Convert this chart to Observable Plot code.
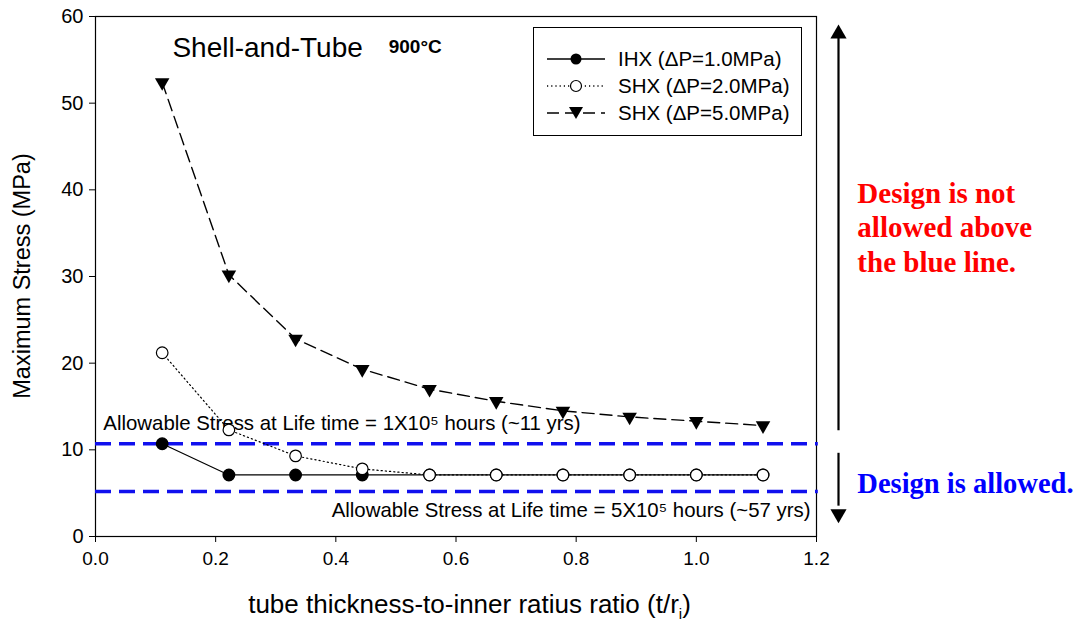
<!DOCTYPE html>
<html><head><meta charset="utf-8">
<script src="https://cdn.jsdelivr.net/npm/d3@7"></script>
<script src="https://cdn.jsdelivr.net/npm/@observablehq/plot@0.6"></script>
<style>
body{margin:0;background:#fff;}
#wrap{position:relative;width:1092px;height:624px;font-family:"Liberation Sans",Arial,sans-serif;color:#000;}
#legend{position:absolute;left:533px;top:27px;width:269px;height:109px;border:1.2px solid #000;box-sizing:border-box;background:#fff;}
.row{position:absolute;left:0;height:28px;display:flex;align-items:center;font-size:20.5px;white-space:nowrap;}
.row svg{margin-left:13px;margin-right:13px;}
#xlabel{position:absolute;left:109px;width:721px;top:589px;text-align:center;font-size:26px;line-height:30px;}
#xlabel sub{font-size:15px;}
#ylabel{position:absolute;left:22px;top:276px;transform:translate(-50%,-50%) rotate(-90deg);font-size:23.5px;white-space:nowrap;}
</style></head><body><div id="wrap"></div>
<script>
// ---- data ----
const ratio = [0.111, 0.222, 0.333, 0.444, 0.556, 0.667, 0.778, 0.889, 1.0, 1.111];
const ihx   = [10.7, 7.1, 7.1, 7.1, 7.1, 7.1, 7.1, 7.1, 7.1, 7.1];
const shx2  = [21.2, 12.3, 9.3, 7.8, 7.1, 7.1, 7.1, 7.1, 7.1, 7.1];
const shx5  = [52.4, 30.2, 22.8, 19.3, 17.0, 15.6, 14.5, 13.8, 13.3, 12.8];
const seriesNames = ["IHX (\u0394P=1.0MPa)", "SHX (\u0394P=2.0MPa)", "SHX (\u0394P=5.0MPa)"];
const allowable = [10.7, 5.2];
const allowableLabels = [
  "Allowable Stress at Life time = 1X10\u2075 hours (~11 yrs)",
  "Allowable Stress at Life time = 5X10\u2075 hours (~57 yrs)"
];
const xTicks = [0, 0.2, 0.4, 0.6, 0.8, 1.0, 1.2];
const yTicks = [0, 10, 20, 30, 40, 50, 60];
const notAllowedLines = ["Design is not", "allowed above", "the blue line."];
const allowedText = "Design is allowed.";
const yTitle = "Maximum Stress (MPa)";

const rows = (ys) => ratio.map((x, i) => ({x, y: ys[i]}));
const dIhx = rows(ihx), dShx2 = rows(shx2), dShx5 = rows(shx5);

const font = '"Liberation Sans", Arial, sans-serif';
const serif = '"Liberation Serif", "Times New Roman", serif';

const chart = Plot.plot({
  width: 1092, height: 624,
  marginLeft: 95, marginRight: 276, marginTop: 16, marginBottom: 88,
  style: {fontFamily: font, fontSize: "19px", background: "white", color: "black", overflow: "visible"},
  x: {domain: [0, 1.2], ticks: xTicks, tickFormat: d3.format(".1f"), tickSize: 6, tickPadding: 9, label: null},
  y: {domain: [0, 60], ticks: yTicks, tickSize: 6, tickPadding: 6, label: null},
  marks: [
    Plot.frame({stroke: "black", strokeWidth: 1.2}),
    Plot.axisX({ticks: xTicks, tickFormat: d3.format(".1f"), tickSize: 6, tickPadding: 9, label: null, fontSize: 19}),
    Plot.axisY({ticks: yTicks, tickSize: 6, tickPadding: 6, label: null, fontSize: 20}),
    Plot.ruleY(allowable, {stroke: "#1010ee", strokeWidth: 3.5, strokeDasharray: "16,8", x1: 0, x2: 1.203}),
    Plot.text([allowableLabels[0]], {x: 0.013, y: 13.0, text: d => d, textAnchor: "start", fontSize: 20.4}),
    Plot.text([allowableLabels[1]], {x: 1.19, y: 3.0, text: d => d, textAnchor: "end", fontSize: 20.4}),
    Plot.line(dIhx, {x: "x", y: "y", stroke: "black", strokeWidth: 1.2}),
    Plot.line(dShx2, {x: "x", y: "y", stroke: "black", strokeWidth: 1.2, strokeDasharray: "1.2,3"}),
    Plot.line(dShx5, {x: "x", y: "y", stroke: "black", strokeWidth: 1.4, strokeDasharray: "12,6"}),
    Plot.dot(dShx5, {x: "x", y: "y", symbol: "triangle", rotate: 180, fill: "black", r: 5.4}),
    Plot.dot(dIhx, {x: "x", y: "y", fill: "black", stroke: "black", r: 5.7}),
    Plot.dot(dShx2, {x: "x", y: "y", fill: "white", stroke: "black", strokeWidth: 1.2, r: 5.8}),
    Plot.text(["Shell-and-Tube"], {x: 0.128, y: 56.4, text: d => d, textAnchor: "start", fontSize: 28}),
    Plot.text(["900\u00b0C"], {x: 0.488, y: 56.5, text: d => d, textAnchor: "start", fontSize: 19, fontWeight: "bold"}),
    // right-side arrows
    Plot.ruleX([1.2], {dx: 22, y1: 12.2, y2: 57.5, stroke: "black", strokeWidth: 2.2}),
    Plot.dot([1.2], {x: d => d, y: 58.0, dx: 22, symbol: "triangle", fill: "black", r: 6}),
    Plot.ruleX([1.2], {dx: 22, y1: 9.6, y2: 3.5, stroke: "black", strokeWidth: 2.2}),
    Plot.dot([1.2], {x: d => d, y: 2.6, dx: 22, symbol: "triangle", rotate: 180, fill: "black", r: 6}),
    Plot.text(notAllowedLines, {x: 1.268, y: (d, i) => [39.6, 35.6, 31.6][i], text: d => d, textAnchor: "start",
      fontFamily: serif, fontWeight: "bold", fontSize: 29, fill: "#ff0000"}),
    Plot.text([allowedText], {x: 1.268, y: 6.1, text: d => d, textAnchor: "start",
      fontFamily: serif, fontWeight: "bold", fontSize: 28.5, fill: "#0000ff"})
  ]
});

const wrap = document.getElementById("wrap");
wrap.appendChild(chart);

// axis titles
const xl = document.createElement("div");
xl.id = "xlabel";
xl.innerHTML = "tube thickness-to-inner ratius ratio (t/r<sub>i</sub>)";
wrap.appendChild(xl);
const yl = document.createElement("div");
yl.id = "ylabel";
yl.textContent = yTitle;
wrap.appendChild(yl);

// legend
const legend = document.createElement("div");
legend.id = "legend";
const styles = [
  {dash: null, marker: "filled"},
  {dash: "1.2,3", marker: "open"},
  {dash: "12,6", marker: "tri"}
];
seriesNames.forEach((name, i) => {
  const r = document.createElement("div");
  r.className = "row";
  r.style.top = (17 + i * 27) + "px";
  const s = styles[i];
  let m = "";
  if (s.marker === "filled") m = '<circle cx="29" cy="10" r="5.5" fill="black"/>';
  else if (s.marker === "open") m = '<circle cx="29" cy="10" r="5.5" fill="white" stroke="black" stroke-width="1.2"/>';
  else m = '<path d="M22,4 L36,4 L29,16 Z" fill="black"/>';
  r.innerHTML = `<svg width="58" height="20"><line x1="0" y1="10" x2="58" y2="10" stroke="black" stroke-width="1.3" ${s.dash ? `stroke-dasharray="${s.dash}"` : ""}/>${m}</svg><span>${name}</span>`;
  legend.appendChild(r);
});
wrap.appendChild(legend);
</script>
</body></html>
